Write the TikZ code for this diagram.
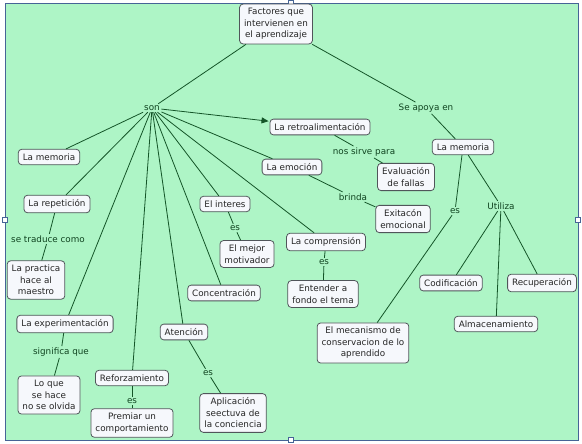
\documentclass[tikz,border=0pt]{standalone}
\usepackage{fontspec}
\setmainfont{DejaVu Sans}
\usetikzlibrary{arrows.meta}

\definecolor{fondo}{RGB}{174,245,198}
\definecolor{marco}{RGB}{70,100,150}
\definecolor{linea}{RGB}{20,85,40}
\definecolor{cajafill}{RGB}{246,248,252}
\definecolor{cajaborde}{RGB}{80,85,90}

\tikzset{
    concepto/.style={draw=cajaborde, line width=0.8pt, fill=cajafill,
        rounded corners=3.5pt, align=center, inner xsep=4.5pt, inner ysep=4.3pt,
        font=\fontsize{8.8}{11.5}\selectfont, text=black!85},
    enlace/.style={inner sep=1.5pt, align=center, text=linea!80!black,
        font=\fontsize{8.8}{11.5}\selectfont},
    rama/.style={draw=linea, line width=0.8pt},
    asa/.style={draw=marco, fill=white, line width=0.5pt, minimum size=5pt, inner sep=0pt}
}

\begin{document}
\begin{tikzpicture}[x=1pt,y=-1pt]
    % --- fondo y marco ---
    \useasboundingbox (0,0) rectangle (582,444);
    \fill[white] (0,0) rectangle (582,444);
    \fill[fondo] (5,3) rectangle (578,440);
    \draw[marco, line width=0.6pt] (5,3) rectangle (578,440);
    \node[asa] (asaN) at (291,3) {};
    \node[asa] (asaS) at (291,440) {};
    \node[asa] (asaO) at (5,220) {};
    \node[asa] (asaE) at (578,220) {};

    % --- concepto central ---
    \node[concepto] (factores) at (276,24) {Factores que\\intervienen en\\el aprendizaje};
    \node[enlace] (son) at (152,108) {son};
    \node[enlace] (apoya) at (426,108) {Se apoya en};

    % --- rama derecha ---
    \node[concepto] (memoriaD) at (463,147) {La memoria};
    \node[enlace] (esMem) at (455,211) {es};
    \node[enlace] (utiliza) at (501,206) {Utiliza};
    \node[concepto] (codif) at (451,283) {Codificación};
    \node[concepto] (recup) at (542,283) {Recuperación};
    \node[concepto] (almac) at (496,324) {Almacenamiento};
    \node[concepto] (mecanismo) at (363,343) {El mecanismo de\\conservacion de lo\\aprendido};

    % --- conceptos de "son" ---
    \node[concepto] (retro) at (320,127) {La retroalimentación};
    \node[enlace] (sirve) at (364,152) {nos sirve para};
    \node[concepto] (evaluacion) at (406,177) {Evaluación\\de fallas};
    \node[concepto] (emocion) at (292,167) {La emoción};
    \node[enlace] (brinda) at (353,197) {brinda};
    \node[concepto] (exitacion) at (403,219) {Exitacón\\emocional};
    \node[concepto] (comprension) at (326,242) {La comprensión};
    \node[enlace] (esComp) at (324,262) {es};
    \node[concepto] (entender) at (323,294) {Entender a\\fondo el tema};
    \node[concepto] (interes) at (225,204) {El interes};
    \node[enlace] (esInt) at (235,228) {es};
    \node[concepto] (motivador) at (247,254) {El mejor\\motivador};
    \node[concepto] (concentra) at (224,293) {Concentración};
    \node[concepto] (atencion) at (184,332) {Atención};
    \node[enlace] (esAte) at (208,373) {es};
    \node[concepto] (aplicacion) at (233,413) {Aplicación\\seectuva de\\la conciencia};
    \node[concepto] (refuerzo) at (132,378) {Reforzamiento};
    \node[enlace] (esRef) at (132,401) {es};
    \node[concepto] (premiar) at (132,423) {Premiar un\\comportamiento};
    \node[concepto] (experimenta) at (65,324) {La experimentación};
    \node[enlace] (significa) at (61,352) {significa que};
    \node[concepto] (loque) at (49,395) {Lo que\\se hace\\no se olvida};
    \node[concepto] (repeticion) at (57,204) {La repetición};
    \node[enlace] (traduce) at (48,239) {se traduce como};
    \node[concepto] (practica) at (36,280) {La practica\\hace al\\maestro};
    \node[concepto] (memoriaI) at (49,157) {La memoria};

    % --- conexiones ---
    \draw[rama] (factores) -- (son);
    \draw[rama] (factores) -- (apoya);
    \draw[rama] (apoya) -- (memoriaD);
    \draw[rama] (memoriaD) -- (esMem);
    \draw[rama] (esMem) -- (mecanismo);
    \draw[rama] (memoriaD) -- (utiliza);
    \draw[rama] (utiliza) -- (codif);
    \draw[rama] (utiliza) -- (almac);
    \draw[rama] (utiliza) -- (recup);

    \draw[rama, -{Triangle[length=7pt,width=6pt]}, shorten >=1pt] (son) -- (retro);
    \foreach \c in {emocion, comprension, interes, concentra, atencion,
                    refuerzo, experimenta, repeticion, memoriaI}
        \draw[rama] (son) -- (\c);

    \draw[rama] (retro) -- (sirve);
    \draw[rama] (sirve) -- (evaluacion);
    \draw[rama] (emocion) -- (brinda);
    \draw[rama] (brinda) -- (exitacion);
    \draw[rama] (comprension) -- (esComp);
    \draw[rama] (esComp) -- (entender);
    \draw[rama] (interes) -- (esInt);
    \draw[rama] (esInt) -- (motivador);
    \draw[rama] (atencion) -- (esAte);
    \draw[rama] (esAte) -- (aplicacion);
    \draw[rama] (refuerzo) -- (esRef);
    \draw[rama] (esRef) -- (premiar);
    \draw[rama] (experimenta) -- (significa);
    \draw[rama] (significa) -- (loque);
    \draw[rama] (repeticion) -- (traduce);
    \draw[rama] (traduce) -- (practica);
\end{tikzpicture}
\end{document}
